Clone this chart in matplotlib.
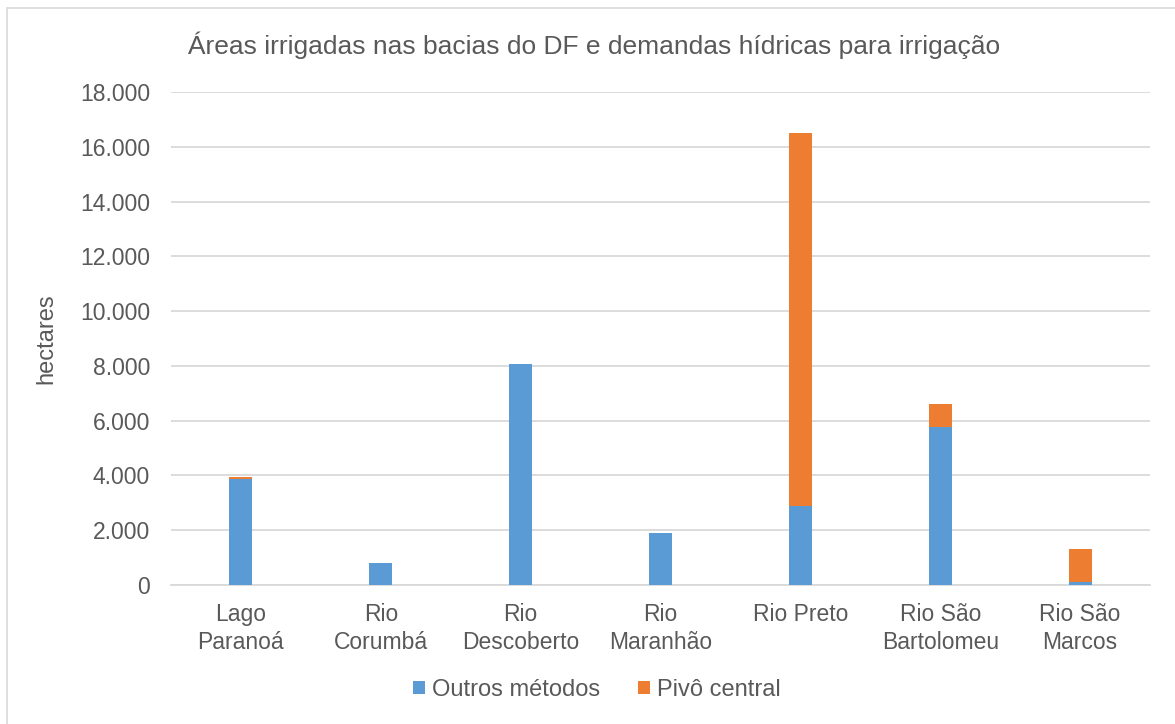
import matplotlib
matplotlib.use("Agg")
import matplotlib.pyplot as plt
from matplotlib.patches import Rectangle
import numpy as np

categories = ["Lago\nParanoá", "Rio\nCorumbá", "Rio\nDescoberto", "Rio\nMaranhão",
              "Rio Preto", "Rio São\nBartolomeu", "Rio São\nMarcos"]
outros = [3860, 800, 8060, 1890, 2900, 5760, 100]
pivo = [80, 0, 0, 0, 13590, 850, 1200]
yticks = [0, 2000, 4000, 6000, 8000, 10000, 12000, 14000, 16000, 18000]
ytick_labels = ["0", "2.000", "4.000", "6.000", "8.000", "10.000", "12.000", "14.000", "16.000", "18.000"]

plt.rcParams['font.family'] = ['Liberation Sans', 'DejaVu Sans']
TXT = '#595959'
W, H = 1175, 724
fig = plt.figure(figsize=(W/100, H/100), dpi=100)

# outer chart border
fig.patches.append(Rectangle((7/W, -0.01), 1.02, 1 - 8/H + 0.01, transform=fig.transFigure,
                             fill=False, edgecolor='#D9D9D9', linewidth=1.2))

ax = fig.add_axes([171/W, 1 - 585/H, (1150-171)/W, (585-92)/H])
x = np.arange(len(categories))
bw = 0.165
ax.bar(x, outros, width=bw, color='#5B9BD5', label='Outros métodos', zorder=3)
ax.bar(x, pivo, width=bw, bottom=outros, color='#ED7D31', label='Pivô central', zorder=3)

ax.set_xlim(-0.5, len(categories) - 0.5)
ax.set_ylim(0, 18000)
ax.set_yticks(yticks)
ax.set_yticklabels(ytick_labels)
ax.set_xticks(x)
ax.set_xticklabels(categories, linespacing=1.25)
ax.tick_params(axis='both', length=0, labelsize=16.5, colors=TXT)
ax.tick_params(axis='y', pad=15)
ax.tick_params(axis='x', pad=13)
ax.grid(axis='y', color='#D9D9D9', linewidth=1.3, zorder=0)
for s in ['top', 'right', 'left']:
    ax.spines[s].set_visible(False)
ax.spines['bottom'].set_color('#D9D9D9')
ax.spines['bottom'].set_linewidth(1.3)

ax.set_ylabel('hectares', fontsize=17, color=TXT)
ax.yaxis.set_label_coords((57 - 171)/(1150-171), 0.5)

fig.text(594/W, 1 - 45/H, 'Áreas irrigadas nas bacias do DF e demandas hídricas para irrigação',
         ha='center', va='center', fontsize=19, color=TXT)

leg = fig.legend(loc='center', bbox_to_anchor=(597/W, 1 - 690/H), ncol=2, frameon=False,
                 fontsize=17, handlelength=0.5, handleheight=0.5, handletextpad=0.3,
                 columnspacing=1.6, labelcolor=TXT)

fig.savefig('out.png', dpi=100)
